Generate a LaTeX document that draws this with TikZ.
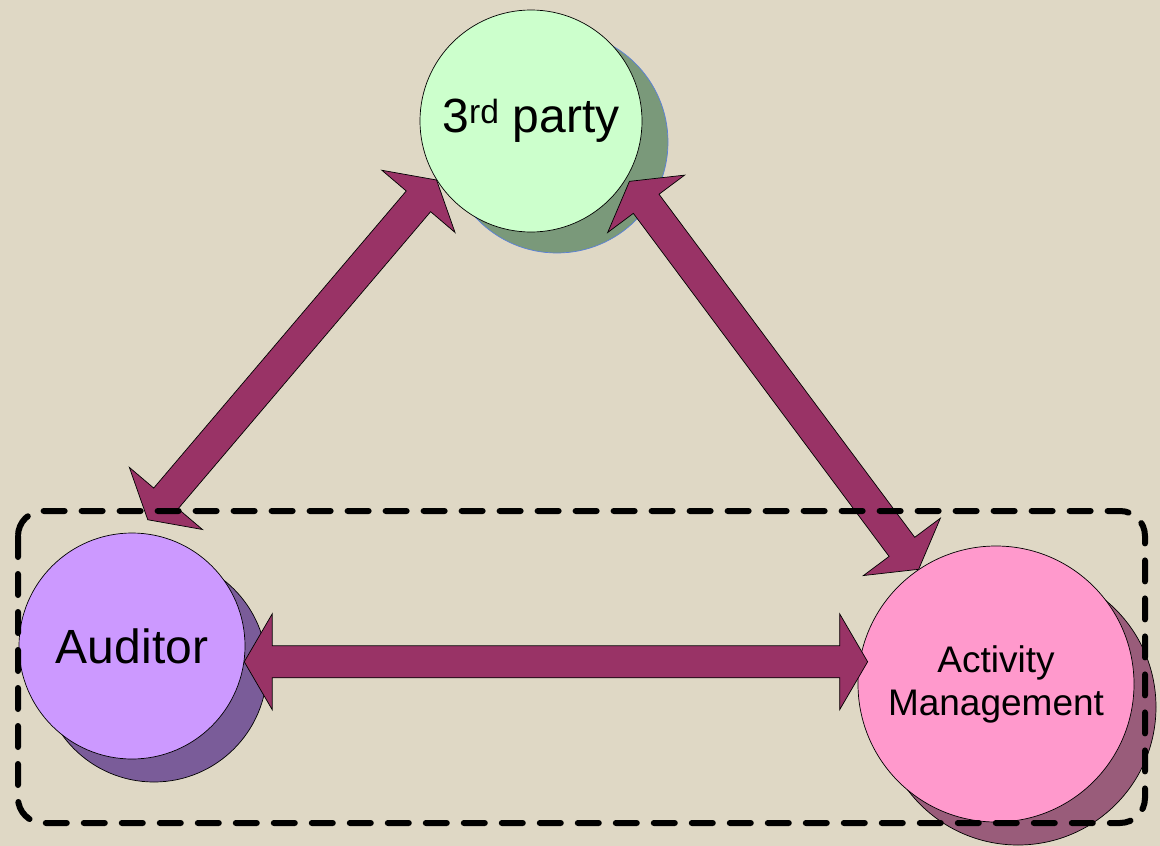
\documentclass[tikz,border=0pt]{standalone}
\usepackage{fontspec}
\setmainfont{Liberation Sans}
\usepackage{tikz}
\usetikzlibrary{shapes, arrows, positioning, calc}
\definecolor{bgtan}{HTML}{DFD8C5}
\definecolor{plum}{HTML}{993366}
\definecolor{mint}{HTML}{CCFFCC}
\definecolor{mintshade}{HTML}{7A997A}
\definecolor{skyline}{HTML}{5A80D8}
\definecolor{lilac}{HTML}{CC99FF}
\definecolor{lilacshade}{HTML}{7A5C99}
\definecolor{rose}{HTML}{FF99CC}
\definecolor{roseshade}{HTML}{995C7A}
\tikzstyle{disc} = [circle, draw, inner sep = 0pt, line width = 0.7pt]
\tikzstyle{bigname} = [font = \fontsize{48}{56}\selectfont]
\tikzstyle{smallname} = [font = \fontsize{37}{43}\selectfont, align = center]
\tikzstyle{flow} = [draw, fill = plum, line width = 0.7pt]
\tikzstyle{group} = [draw, line width = 6pt, dash pattern = on 21pt off 17pt, line cap = round, rounded corners = 25pt]

% block arrow with a head at both ends
\newcommand{\twoway}[2]{%
	\path [flow] (#1)
		-- ($(#1)!28pt!(#2)!48pt!90:(#2)$)
		-- ($(#1)!28pt!(#2)!16pt!90:(#2)$)
		-- ($(#2)!28pt!(#1)!16pt!-90:(#1)$)
		-- ($(#2)!28pt!(#1)!48pt!-90:(#1)$)
		-- (#2)
		-- ($(#2)!28pt!(#1)!48pt!90:(#1)$)
		-- ($(#2)!28pt!(#1)!16pt!90:(#1)$)
		-- ($(#1)!28pt!(#2)!16pt!-90:(#2)$)
		-- ($(#1)!28pt!(#2)!48pt!-90:(#2)$)
		-- cycle;}

\begin{document}
\begin{tikzpicture}[x = 1pt, y = -1pt]
			\useasboundingbox (0,0) rectangle (1160,846);
			\fill [bgtan] (0,0) rectangle (1160,846);
			
			\node [disc, fill = mintshade, draw = skyline, minimum size = 222pt] (party-shadow) at (557,142) {};
			\node [disc, fill = lilacshade, minimum size = 226pt] (auditor-shadow) at (154,669) {};
			\node [disc, fill = roseshade, minimum size = 276pt] (activity-shadow) at (1018,707) {};
			
			\node [disc, fill = mint, minimum size = 222pt, bigname] (party) at (531,121) {3\textsuperscript{rd} party};
			\node [disc, fill = lilac, minimum size = 226pt, bigname] (auditor) at (132,646) {Auditor};
			\node [disc, fill = rose, minimum size = 276pt, smallname] (activity) at (996,684) {Activity\\Management};
			
			\coordinate (auditor-up) at ([yshift = 14pt]auditor.82);
			\coordinate (auditor-right) at (auditor.-8);
			\coordinate (party-left) at (party.212);
			\coordinate (party-right) at ([shift = {(3pt,-3pt)}]party.-31);
			\coordinate (activity-up) at (activity.124);
			\coordinate (activity-left) at ($(auditor-right -| activity.west) + (10pt,0pt)$);
			
			\twoway{auditor-up}{party-left}
			\twoway{party-right}{activity-up}
			\twoway{auditor-right}{activity-left}
			
			\path [group] (18,511) rectangle (1145,823);
		\end{tikzpicture}
\end{document}
